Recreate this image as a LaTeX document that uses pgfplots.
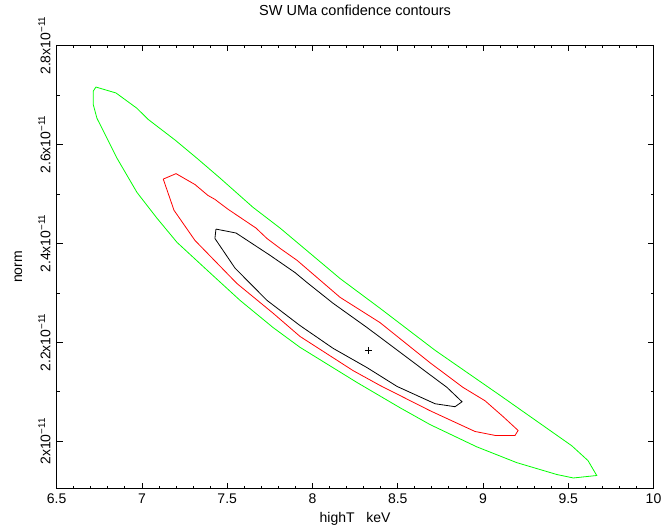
\documentclass[border=0pt]{standalone}
\usepackage{pgfplots}
\pgfplotsset{compat=1.18}
\usetikzlibrary{calc}
\usepackage{fontspec}
\setmainfont{Liberation Sans}
\definecolor{pgreen}{rgb}{0,1,0}
\definecolor{pred}{rgb}{1,0,0}
\begin{document}
\begin{tikzpicture}
\begin{axis}[
  scale only axis,
  width=597pt, height=444pt,
  xmin=6.5, xmax=10, ymin=1.904, ymax=2.801,
  xtick={6.5,7,7.5,8,8.5,9,9.5,10},
  xticklabels={6.5,7,7.5,8,8.5,9,9.5,10},
  minor x tick num=4,
  ytick={2.0,2.2,2.4,2.6,2.8},
  yticklabels={2x10\textsuperscript{−11},2.2x10\textsuperscript{−11},2.4x10\textsuperscript{−11},2.6x10\textsuperscript{−11},2.8x10\textsuperscript{−11}},
  minor y tick num=1,
  tick align=inside,
  major tick length=6pt, minor tick length=3pt,
  every tick/.style={black, line width=0.8pt},
  axis line style={line width=0.9pt},
  tick label style={font=\fontsize{14}{16}\selectfont, inner sep=0pt},
  xticklabel style={anchor=north},
  xticklabel shift=5pt,
  yticklabel style={rotate=90, anchor=south},
  yticklabel shift=6pt,
  title={SW UMa confidence contours},
  title style={font=\fontsize{14.5}{16}\selectfont, at={(axis description cs:0.5,1)}, anchor=base, yshift=23pt, inner sep=0pt},
  xlabel={highT\ \ \ keV},
  xlabel style={font=\fontsize{14}{16}\selectfont, at={(axis description cs:0.5,0)}, anchor=base, yshift=-34pt, inner sep=0pt},
  ylabel={norm},
  ylabel style={font=\fontsize{14}{16}\selectfont, at={($(axis description cs:0,0.5)+(-34.5pt,0)$)}, anchor=base, inner sep=0pt},
]
% 1-sigma (black)
\addplot[black, line width=0.8pt] coordinates {
(7.434,2.429) (7.552,2.421) (7.645,2.400) (7.751,2.376) (7.898,2.341) (7.968,2.321)
(8.121,2.279) (8.320,2.230) (8.514,2.180) (8.672,2.139) (8.789,2.109) (8.877,2.080)
(8.836,2.070) (8.719,2.076) (8.496,2.111) (8.320,2.149) (8.121,2.188) (7.927,2.234)
(7.733,2.285) (7.546,2.350) (7.428,2.410) (7.434,2.429)
};
% 2-sigma (red)
\addplot[pred, line width=0.8pt] coordinates {
(7.125,2.530) (7.200,2.541) (7.311,2.519) (7.387,2.497) (7.428,2.489) (7.505,2.469)
(7.669,2.431) (7.733,2.410) (7.810,2.390) (7.909,2.366) (8.162,2.291) (8.396,2.240)
(8.689,2.159) (8.883,2.109) (9.012,2.082) (9.118,2.050) (9.206,2.022) (9.188,2.012)
(9.071,2.012) (8.953,2.020) (8.689,2.062) (8.396,2.113) (8.238,2.143) (7.927,2.212)
(7.769,2.259) (7.557,2.319) (7.311,2.406) (7.188,2.467) (7.125,2.530)
};
% 3-sigma (green)
\addplot[pgreen, line width=0.8pt] coordinates {
(6.730,2.716) (6.848,2.704) (6.971,2.673) (7.035,2.651) (7.194,2.609) (7.323,2.572)
(7.458,2.532) (7.651,2.473) (7.810,2.431) (8.162,2.329) (8.396,2.269) (8.719,2.184)
(9.100,2.093) (9.521,1.991) (9.616,1.961) (9.667,1.931)
(9.530,1.926) (9.433,1.933) (9.198,1.957) (8.963,1.989) (8.689,2.034) (8.513,2.068)
(8.261,2.119) (7.927,2.190) (7.769,2.230) (7.575,2.285) (7.382,2.346) (7.206,2.402)
(7.088,2.451) (6.971,2.503) (6.854,2.572) (6.736,2.653) (6.715,2.680) (6.715,2.708)
(6.730,2.716)
};
% best fit
\addplot[black, only marks, mark=+, mark size=3.5pt, mark options={line width=0.8pt}] coordinates {(8.328,2.184)};
\coordinate (SW) at (rel axis cs:0,0);
\coordinate (NE) at (rel axis cs:1,1);
\end{axis}
\pgfresetboundingbox
\path[use as bounding box] ($(SW)+(-56.7pt,-38pt)$) rectangle ($(NE)+(10.5pt,45pt)$);
\end{tikzpicture}
\end{document}
